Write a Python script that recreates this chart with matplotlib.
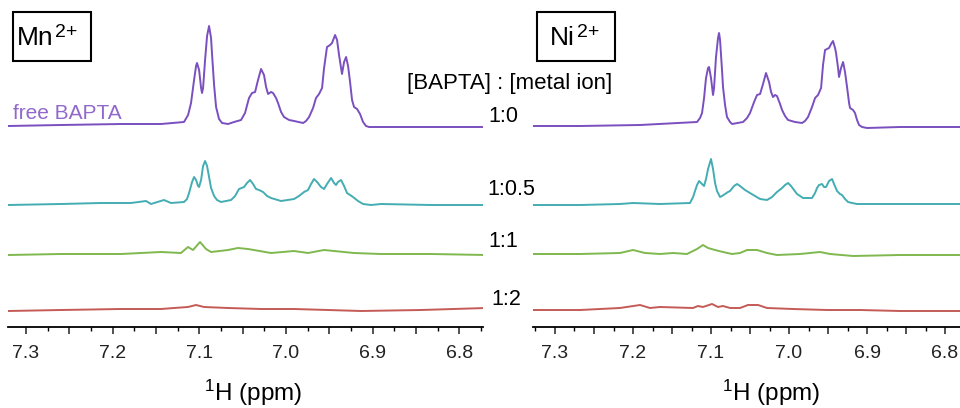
import matplotlib
matplotlib.use("Agg")
import matplotlib.pyplot as plt
from matplotlib.patches import Rectangle
from matplotlib.ticker import MultipleLocator, FuncFormatter

plt.rcParams['font.family'] = ['Liberation Sans', 'DejaVu Sans']
plt.rcParams['mathtext.fontset'] = 'custom'
plt.rcParams['mathtext.rm'] = 'Liberation Sans'
plt.rcParams['mathtext.it'] = 'Liberation Sans'

# ---- data (ppm, intensity a.u. above own baseline) ----
ratios = ['1:0', '1:0.5', '1:1', '1:2']
colors = ['#7a4fbf', '#44adb3', '#7fb84e', '#c45b57']
offsets = [202, 123, 73, 18]

# Mn2+ panel
mn_free_ppm = [7.3208, 7.2596, 7.1904, 7.1442, 7.1177, 7.1130, 7.1096, 7.1061, 7.1038,
               7.1027, 7.1003, 7.0980, 7.0969, 7.0957, 7.0934, 7.0911, 7.0888, 7.0865,
               7.0853, 7.0830, 7.0807, 7.0773, 7.0738, 7.0669, 7.0600, 7.0519, 7.0473,
               7.0427, 7.0392, 7.0357, 7.0323, 7.0288, 7.0254, 7.0230, 7.0207, 7.0173,
               7.0150, 7.0115, 7.0092, 7.0057, 7.0023, 6.9965, 6.9907, 6.9803, 6.9769,
               6.9734, 6.9688, 6.9654, 6.9619, 6.9584, 6.9561, 6.9527, 6.9492, 6.9469,
               6.9434, 6.9411, 6.9388, 6.9354, 6.9330, 6.9307, 6.9284, 6.9261, 6.9238,
               6.9215, 6.9180, 6.9146, 6.9111, 6.9077, 6.9042, 6.8904, 6.8442, 6.7692]
mn_free_int = [-1, 0, 1, 1, 3, 10, 22, 45, 59, 62, 55, 37, 32, 37, 65, 89, 99, 87, 70,
               40, 18, 6, 2, 1, 3, 5, 12, 27, 32, 33, 45, 56, 50, 38, 31, 33, 32, 27, 22,
               13, 8, 5, 4, 2, 4, 8, 17, 27, 31, 37, 57, 78, 80, 82, 90, 85, 70, 51, 63,
               68, 59, 43, 25, 18, 16, 11, 3, -1, -2, -2, -2, -2]

mn_half_ppm = [7.3208, 7.2596, 7.2135, 7.1789, 7.1615, 7.1558, 7.1408, 7.1327, 7.1177,
               7.1142, 7.1119, 7.1084, 7.1061, 7.1038, 7.1015, 7.1003, 7.0980, 7.0957,
               7.0934, 7.0911, 7.0888, 7.0865, 7.0830, 7.0796, 7.0750, 7.0634, 7.0588,
               7.0542, 7.0484, 7.0450, 7.0415, 7.0380, 7.0346, 7.0311, 7.0265, 7.0219,
               7.0173, 7.0057, 6.9907, 6.9850, 6.9792, 6.9746, 6.9711, 6.9677, 6.9642,
               6.9596, 6.9561, 6.9527, 6.9480, 6.9446, 6.9423, 6.9400, 6.9365, 6.9330,
               6.9296, 6.9261, 6.9227, 6.9169, 6.9111, 6.9019, 6.8904, 6.8327, 6.7692]
mn_half_int = [-1, 0, 1, 1, 3, 0, 4, 1, 2, 5, 11, 22, 27, 24, 18, 17, 24, 38, 43, 38,
               27, 16, 8, 4, 2, 4, 8, 15, 17, 21, 24, 20, 15, 14, 12, 8, 6, 3, 5, 8, 12,
               14, 20, 25, 22, 17, 15, 20, 26, 21, 19, 22, 24, 18, 11, 9, 7, 3, 0, -1, 0,
               -1, -1]

mn_one_ppm = [7.3208, 7.2596, 7.1904, 7.1442, 7.1212, 7.1131, 7.1073, 7.0992, 7.0923,
              7.0865, 7.0669, 7.0554, 7.0439, 7.0173, 6.9908, 6.9746, 6.9562, 6.9446,
              6.9216, 6.8904, 6.8327, 6.7692]
mn_one_int = [-1, 0, 0, 2, 1, 7, 4, 12, 5, 2, 4, 6, 5, 1, 3, 1, 4, 3, 1, 0, 0, -1]

mn_two_ppm = [7.3208, 7.2596, 7.1904, 7.1442, 7.1292, 7.1131, 7.1038, 7.0946, 7.0669,
              7.0289, 6.9908, 6.9515, 6.9135, 6.8442, 6.7692]
mn_two_int = [-2, -1, 0, 0, 1, 2, 4, 2, 1, 0, 0, -1, -2, -1, 1]

# Ni2+ panel
ni_free_ppm = [7.3282, 7.2679, 7.1910, 7.1179, 7.1141, 7.1115, 7.1089, 7.1064, 7.1038,
               7.1025, 7.1000, 7.0974, 7.0961, 7.0936, 7.0910, 7.0897, 7.0884, 7.0859,
               7.0846, 7.0820, 7.0795, 7.0756, 7.0730, 7.0589, 7.0538, 7.0500, 7.0448,
               7.0410, 7.0371, 7.0333, 7.0295, 7.0256, 7.0230, 7.0205, 7.0179, 7.0154,
               7.0115, 7.0089, 7.0051, 7.0012, 6.9923, 6.9833, 6.9795, 6.9756, 6.9705,
               6.9666, 6.9628, 6.9589, 6.9564, 6.9538, 6.9487, 6.9461, 6.9436, 6.9410,
               6.9397, 6.9371, 6.9359, 6.9333, 6.9307, 6.9282, 6.9256, 6.9230, 6.9218,
               6.9179, 6.9154, 6.9128, 6.9102, 6.9064, 6.9000, 6.8577, 6.7808]
ni_free_int = [-1, -1, 0, 3, 7, 12, 27, 47, 57, 58, 47, 30, 37, 68, 87, 92, 85, 55, 38,
               20, 8, 3, 1, 3, 7, 12, 23, 30, 31, 41, 52, 43, 33, 28, 30, 29, 21, 15, 9,
               5, 3, 2, 4, 8, 18, 27, 30, 37, 60, 75, 77, 81, 84, 77, 72, 57, 48, 57, 63,
               53, 38, 22, 17, 15, 12, 5, 0, -2, -3, -2, -2]

ni_half_ppm = [7.3282, 7.2679, 7.2167, 7.2000, 7.1654, 7.1269, 7.1230, 7.1205, 7.1179,
               7.1153, 7.1128, 7.1089, 7.1064, 7.1038, 7.1000, 7.0974, 7.0948, 7.0923,
               7.0884, 7.0859, 7.0820, 7.0782, 7.0756, 7.0705, 7.0666, 7.0628, 7.0564,
               7.0500, 7.0436, 7.0371, 7.0282, 7.0218, 7.0154, 7.0089, 7.0051, 7.0012,
               6.9974, 6.9936, 6.9897, 6.9820, 6.9705, 6.9666, 6.9641, 6.9615, 6.9577,
               6.9551, 6.9525, 6.9487, 6.9448, 6.9423, 6.9384, 6.9346, 6.9320, 6.9282,
               6.9243, 6.9192, 6.9128, 6.8577, 6.7808]
ni_half_int = [-1, -1, 0, 1, 0, 1, 7, 13, 19, 23, 21, 18, 25, 35, 45, 35, 21, 13, 7, 8,
               10, 12, 13, 18, 20, 18, 14, 11, 8, 5, 4, 7, 12, 16, 19, 21, 18, 14, 10, 6,
               6, 11, 16, 19, 20, 17, 17, 23, 25, 20, 13, 10, 9, 5, 2, 1, 0, 0, 0]

ni_one_ppm = [7.3282, 7.2679, 7.2167, 7.2000, 7.1846, 7.1654, 7.1487, 7.1308, 7.1179,
              7.1103, 7.1038, 7.0949, 7.0846, 7.0731, 7.0628, 7.0538, 7.0410, 7.0282,
              7.0154, 6.9859, 6.9731, 6.9603, 6.9474, 6.9179, 6.8577, 6.7808]
ni_one_int = [0, 0, 1, 4, 1, 0, 1, 0, 5, 9, 6, 4, 2, 0, 1, 4, 4, 1, -1, 0, 1, 2, 0, -2,
              -1, -1]

ni_two_ppm = [7.3282, 7.2679, 7.2167, 7.1910, 7.1782, 7.1654, 7.1231, 7.1167, 7.1103,
              7.0987, 7.0910, 7.0846, 7.0756, 7.0628, 7.0526, 7.0397, 7.0282, 6.9949,
              6.9513, 6.9090, 6.8577, 6.7808]
ni_two_int = [-1, -1, 1, 4, 1, 2, 1, 3, 2, 5, 2, 3, 1, 1, 4, 4, 1, 0, -1, -1, -2, -2]

panels = [
    {'ion': 'Mn', 'xlim': (7.3208, 6.7727), 'px': (8, 483),
     'traces': [(mn_free_ppm, mn_free_int), (mn_half_ppm, mn_half_int),
                (mn_one_ppm, mn_one_int), (mn_two_ppm, mn_two_int)]},
    {'ion': 'Ni', 'xlim': (7.3282, 6.7808), 'px': (533, 960),
     'traces': [(ni_free_ppm, ni_free_int), (ni_half_ppm, ni_half_int),
                (ni_one_ppm, ni_one_int), (ni_two_ppm, ni_two_int)]},
]

W, H = 960, 408
fig = plt.figure(figsize=(W / 100, H / 100), dpi=100)


def fx(px):
    return px / W


def fy(py):
    return 1 - py / H


axis_py = 327
for p in panels:
    x0, x1 = p['px']
    ax = fig.add_axes([fx(x0), fy(axis_py), fx(x1 - x0), axis_py / H])
    for (ppm, inten), off, c in zip(p['traces'], offsets, colors):
        ax.plot(ppm, [v + off for v in inten], color=c, lw=1.4,
                solid_joinstyle='round', solid_capstyle='round')
    ax.set_xlim(*p['xlim'])
    ax.set_ylim(0, axis_py)
    for s in ['left', 'right', 'top']:
        ax.spines[s].set_visible(False)
    ax.spines['bottom'].set_linewidth(1.3)
    ax.set_yticks([])
    ax.xaxis.set_major_locator(MultipleLocator(0.05))
    ax.xaxis.set_minor_locator(MultipleLocator(0.025))
    ax.xaxis.set_major_formatter(FuncFormatter(
        lambda v, pos: f'{v:.1f}' if abs(round(v * 10) - v * 10) < 1e-6 else ''))
    ax.tick_params(axis='x', which='major', length=5, width=1.1, labelsize=14,
                   pad=8, colors='#222222')
    ax.tick_params(axis='x', which='minor', length=3, width=1.0)
    ax.patch.set_alpha(0)

# boxes with ion names
for bx, tx, sx, ion in [(13, 17, 55, 'Mn'), (537, 550, 577, 'Ni')]:
    fig.patches.append(Rectangle((fx(bx), fy(61)), fx(78), 49 / H, transform=fig.transFigure,
                                 fill=False, lw=1.5, ec='black'))
    fig.text(fx(tx), fy(45), ion, fontsize=19, va='baseline', ha='left')
    fig.text(fx(sx), fy(37), '2+', fontsize=14, va='baseline', ha='left')

fig.text(fx(13), fy(119), 'free BAPTA', fontsize=15, color='#9168cc', va='baseline')
fig.text(fx(612), fy(89), '[BAPTA] : [metal ion]', fontsize=16, ha='right', va='baseline')

ratio_pos = [(488, 122), (487, 195), (488, 247), (491, 305)]
for lab, (x, y) in zip(ratios, ratio_pos):
    fig.text(fx(x), fy(y), lab, fontsize=15.5, va='baseline', ha='left')

for cx in [253, 771]:
    fig.text(fx(cx), fy(401), r'$^{1}$H (ppm)', fontsize=17.5, ha='center', va='baseline')

fig.savefig('out.png', dpi=100)
